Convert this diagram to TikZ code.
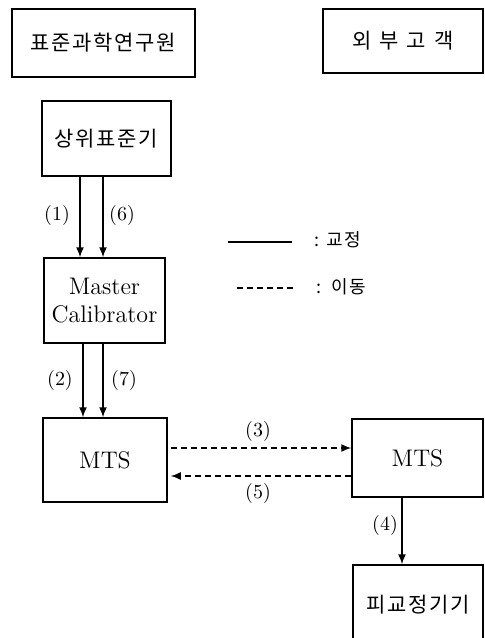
\documentclass[tikz,border=0pt]{standalone}
\usepackage{fontspec}
\newfontfamily\kr[LetterSpace=8]{Noto Sans CJK KR}
\usetikzlibrary{arrows.meta}

\begin{document}
\begin{tikzpicture}[x=0.5pt,y=-0.5pt,>={Latex[length=5pt,width=4pt]},
  box/.style={draw,line width=0.75pt,inner sep=0pt,align=center},
  hangul/.style={font=\kr\fontsize{10.5}{12}\selectfont},
  latin/.style={font=\fontsize{12}{14}\selectfont},
  cal/.style={->,line width=0.75pt},
  move/.style={->,line width=0.75pt,dash pattern=on 3pt off 2pt},
  num/.style={font=\fontsize{10}{11}\selectfont}]
\useasboundingbox (0,0) rectangle (484,638);

% institute side
\node[box,hangul,minimum width=91.5pt,minimum height=34pt] (kriss) at (103.5,43) {표준과학연구원};
\node[box,hangul,minimum width=64.5pt,minimum height=37.5pt] (upper) at (106.5,138.5) {상위표준기};
\node[box,latin,minimum width=60.5pt,minimum height=42.5pt] (master) at (104.5,300.5) {Master\\Calibrator};
\node[box,latin,minimum width=62pt,minimum height=42pt] (mtsL) at (105,460) {MTS};

% customer side
\node[box,hangul,minimum width=80pt,minimum height=32pt] (customer) at (403,41) {{\addfontfeature{LetterSpace=38}외부고객}};
\node[box,latin,minimum width=65.5pt,minimum height=39pt] (mtsR) at (417.5,458) {MTS};
\node[box,hangul,minimum width=65pt,minimum height=40pt] (dut) at (418,605) {피교정기기};

\draw[cal] (upper.south -| 80,0) -- (master.north -| 80,0);
\draw[cal] (upper.south -| 103,0) -- (master.north -| 103,0);
\draw[cal] (master.south -| 83,0) -- (mtsL.north -| 83,0);
\draw[cal] (master.south -| 103,0) -- (mtsL.north -| 103,0);
\draw[move,shorten <=1.5pt] (mtsL.east |- 0,448) -- (mtsR.west |- 0,448);
\draw[move,shorten >=1.5pt] (mtsR.west |- 0,476) -- (mtsL.east |- 0,476);
\draw[cal] (mtsR.south -| 402,0) -- (dut.north -| 402,0);

\node[num] (n1) at (57,215) {(1)};
\node[num] (n6) at (122,215) {(6)};
\node[num] (n2) at (60,380) {(2)};
\node[num] (n7) at (124,380) {(7)};
\node[num] (n3) at (258,431) {(3)};
\node[num] (n5) at (258,493) {(5)};
\node[num] (n4) at (385,525) {(4)};

% legend
\node[hangul,font=\kr\fontsize{9}{11}\selectfont,anchor=west] (legcal) at (307,240) {:\hspace{3.5pt}교정};
\node[hangul,font=\kr\fontsize{9}{11}\selectfont,anchor=west] (legmove) at (309,287) {:\hspace{5pt}이동};
\coordinate (c1) at (228,242);
\coordinate (c2) at (237,288);
\draw[line width=0.75pt] (c1) -- (c1 -| 292,0);
\draw[line width=0.6pt,dash pattern=on 3pt off 2pt] (c2) -- (c2 -| 295,0);
\end{tikzpicture}
\end{document}
